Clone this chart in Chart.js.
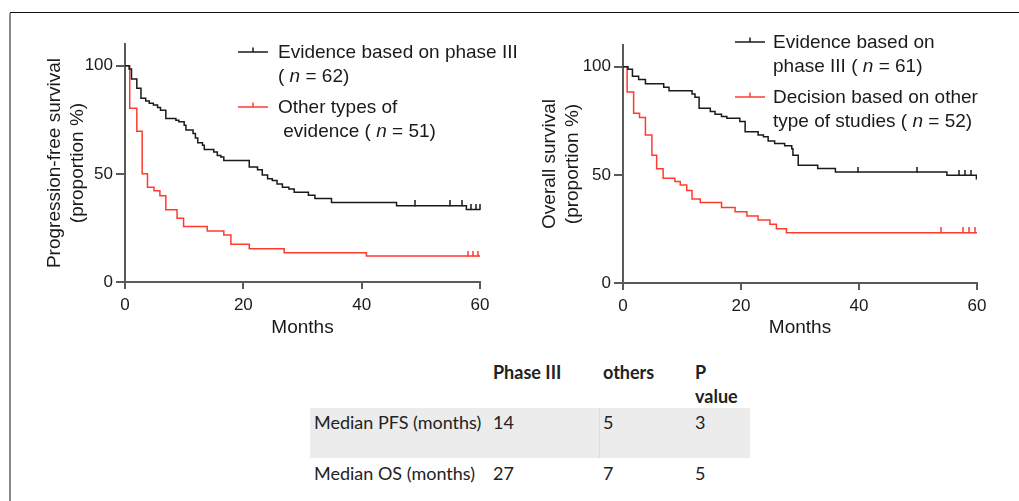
<!DOCTYPE html>
<html>
<head>
<meta charset="utf-8">
<script src="https://cdn.jsdelivr.net/npm/chart.js@4.4.1/dist/chart.umd.min.js"></script>
<style>
  html, body { margin: 0; padding: 0; background: #fff; }
  body { width: 1019px; height: 501px; position: relative; overflow: hidden;
         font-family: "Liberation Sans", Arial, sans-serif; color: #1a1a1a; }
  .frame-top { position: absolute; left: 10px; top: 12px; width: 1009px; border-top: 1.5px solid #111; }
  .frame-left { position: absolute; left: 9px; top: 13px; height: 488px; border-left: 2px solid #8a8a8a; }
  canvas { position: absolute; top: 20px; }
  .legend { position: absolute; font-size: 19px; line-height: 24px; white-space: nowrap; }
  .legend svg { position: absolute; top: 0; }
  .tbl { position: absolute; font-family: Lato, "Open Sans", sans-serif; font-size: 18px; color: #222; white-space: nowrap; }
  .tbl div { position: absolute; line-height: 20px; }
  .band { position: absolute; left: 310px; top: 408px; width: 440px; height: 50px; background: #ececec; }
  .band-line { position: absolute; left: 599px; top: 408px; width: 1px; height: 50px; background: #dcdcdc; }
</style>
</head>
<body>
<div class="frame-top"></div>
<div class="frame-left"></div>

<canvas id="pfs" width="490" height="330" style="left:10px"></canvas>
<canvas id="os" width="500" height="330" style="left:505px"></canvas>

<div id="legends"></div>
<div class="band"></div>
<div class="band-line"></div>
<div class="tbl" id="table"></div>

<script>
// axes
const xTicks = [0, 20, 40, 60];
const yTicks = [0, 50, 100];

// progression-free survival, phase III (n = 62)
const pfsP3Months = [0, 0.7, 1.1, 2.0, 2.7, 3.5, 4.1, 4.8, 5.5, 6.0, 6.9, 8.6, 9.1, 10.0, 10.3, 11.5, 11.9, 12.3,
  13.1, 13.4, 15.0, 15.6, 16.2, 16.7, 21.0, 22.4, 23.2, 24.1, 24.9, 25.7, 26.6, 27.7, 28.6, 31.0, 32.1, 34.9,
  45.9, 57.7, 60];
const pfsP3Surv = [100, 98.4, 93.8, 89.6, 84.9, 83.7, 82.6, 81.8, 80.6, 79.4, 75.6, 74.8, 74.1, 72.5, 70.2, 68.6, 66.6, 64.4,
  63.2, 61.2, 60.1, 58.5, 57.8, 56.2, 53.1, 51.9, 49.5, 47.7, 46.9, 45.3, 43.8, 43.0, 41.5, 40.1, 38.6, 36.7,
  35.2, 33.5, 33.5];
const pfsP3Censored = [49.0, 54.9, 56.9, 58.5, 59.3, 60];

// progression-free survival, other evidence (n = 51)
const pfsOtherMonths = [0, 0.8, 2.0, 2.9, 3.8, 4.9, 5.9, 6.9, 8.8, 9.9, 13.9, 16.7, 17.9, 21.0, 26.9, 40.8, 60];
const pfsOtherSurv = [100, 80.3, 69.7, 50.0, 43.8, 42.2, 39.9, 33.4, 29.5, 25.6, 23.6, 21.7, 17.4, 15.4, 13.5, 12.0, 12.0];
const pfsOtherCensored = [58.0, 58.9, 59.7];

// overall survival, phase III (n = 61)
const osP3Months = [0, 0.85, 1.6, 2.65, 3.8, 6.9, 7.8, 11.7, 12.2, 12.9, 14.8, 15.6, 16.7, 17.6, 19.8, 20.7, 22.9,
  23.8, 24.6, 25.7, 27.4, 28.6, 28.8, 29.7, 33.0, 36.0, 54.9, 59.9, 60];
const osP3Surv = [100, 98.8, 95.6, 94.1, 92.1, 90.5, 88.9, 87.4, 85.8, 80.8, 79.3, 78.0, 76.9, 76.2, 74.6, 69.9, 68.4,
  67.6, 65.6, 64.5, 63.4, 62.1, 59.0, 54.4, 52.9, 51.3, 49.8, 48.2, 48.2];
const osP3Censored = [39.9, 49.9, 56.9, 57.9, 58.9];

// overall survival, other studies (n = 52)
const osOtherMonths = [0, 0.7, 1.8, 2.8, 3.8, 4.9, 5.7, 6.8, 8.8, 9.7, 10.8, 11.7, 13.1, 16.7, 19.0, 21.0, 22.9,
  24.9, 26.0, 27.7, 60];
const osOtherSurv = [100, 88.3, 78.5, 76.5, 68.4, 59.0, 52.8, 48.4, 46.9, 45.3, 42.7, 38.8, 37.2, 34.9, 32.9, 31.0, 29.1,
  27.1, 25.1, 23.2, 23.2];
const osOtherCensored = [53.9, 57.7, 58.6, 59.7];

// table below the plots
const tableHeaders = ['Phase III', 'others', 'P value'];
const tableRows = ['Median PFS (months)', 'Median OS (months)'];
const medianPhase3 = [14, 27];
const medianOthers = [5, 7];
const pValues = [3, 5];

const BLACK = '#1a1a1a';
const RED = '#ff3b2f';
const AXIS = '#5a5a5a';
const FONT = '"Liberation Sans", Arial, sans-serif';

function toXY(xs, ys) {
  return xs.map((x, i) => ({ x: x, y: ys[i] }));
}

// survival level of a step curve at time t
function levelAt(xs, ys, t) {
  let v = ys[0];
  for (let i = 0; i < xs.length; i++) if (xs[i] <= t) v = ys[i];
  return v;
}

// censor mark: short tick pointing up from the curve
function tickMark(color) {
  const c = document.createElement('canvas');
  c.width = 2; c.height = 11;
  const g = c.getContext('2d');
  g.fillStyle = color;
  g.fillRect(0.25, 0, 1.5, 6);
  return c;
}

function curve(xs, ys, color) {
  return {
    type: 'line', data: toXY(xs, ys), stepped: true, borderColor: color,
    borderWidth: 1.5, pointRadius: 0, fill: false
  };
}

function censors(xs, ys, times, color) {
  return {
    type: 'scatter', data: times.map(t => ({ x: t, y: levelAt(xs, ys, t) })),
    pointStyle: tickMark(color), pointRadius: 5, clip: false
  };
}

function makeChart(id, datasets, yTitle, yWidth, padTop, padRight) {
  new Chart(document.getElementById(id), {
    data: { datasets: datasets },
    options: {
      responsive: false,
      animation: false,
      layout: { padding: { top: padTop, right: padRight, bottom: 0, left: 0 } },
      plugins: { legend: { display: false }, tooltip: { enabled: false } },
      scales: {
        x: {
          type: 'linear', min: 0, max: 60,
          afterBuildTicks: s => { s.ticks = xTicks.map(v => ({ value: v })); },
          afterFit: s => { s.height = 330 - 262 - (padTop - 24); },
          grid: { drawOnChartArea: false, drawTicks: true, tickLength: 7, color: AXIS, lineWidth: 2 },
          border: { color: AXIS, width: 2 },
          ticks: { color: BLACK, font: { family: FONT, size: 17 }, padding: 6, maxRotation: 0 },
          title: { display: true, text: 'Months', color: BLACK, font: { family: FONT, size: 19 },
                   padding: { top: 0, bottom: 10.6 } }
        },
        y: {
          min: 0, max: 110,
          afterBuildTicks: s => { s.ticks = yTicks.map(v => ({ value: v })); },
          afterFit: s => { s.width = yWidth; },
          grid: { drawOnChartArea: false, drawTicks: true, tickLength: 9, color: AXIS, lineWidth: 2 },
          border: { color: AXIS, width: 2 },
          ticks: { color: BLACK, font: { family: FONT, size: 17 }, padding: 3 },
          title: { display: true, text: yTitle, color: BLACK, font: { family: FONT, size: 19 },
                   padding: { top: 33.6, bottom: 0 } }
        }
      }
    }
  });
}

makeChart('pfs', [
  curve(pfsP3Months, pfsP3Surv, BLACK),
  curve(pfsOtherMonths, pfsOtherSurv, RED),
  censors(pfsP3Months, pfsP3Surv, pfsP3Censored, BLACK),
  censors(pfsOtherMonths, pfsOtherSurv, pfsOtherCensored, RED)
], ['Progression-free survival', '(proportion %)'], 115, 24, 20);

makeChart('os', [
  curve(osP3Months, osP3Surv, BLACK),
  curve(osOtherMonths, osOtherSurv, RED),
  censors(osP3Months, osP3Surv, osP3Censored, BLACK),
  censors(osOtherMonths, osOtherSurv, osOtherCensored, RED)
], ['Overall survival', '(proportion %)'], 118, 25, 28);

// legends (html text)
function legendSymbol(color, offset) {
  return '<svg width="30" height="20" style="left:' + offset + 'px">' +
    '<line x1="0" y1="12" x2="30" y2="12" stroke="' + color + '" stroke-width="1.5"/>' +
    '<line x1="15" y1="12" x2="15" y2="7.5" stroke="' + color + '" stroke-width="1.5"/></svg>';
}
const legendItems = [
  { left: 278, top: 40, color: BLACK, off: -40, html: 'Evidence based on phase III<br>( <i>n</i> = 62)' },
  { left: 278, top: 95, color: RED, off: -40, html: 'Other types of<br>&nbsp;evidence ( <i>n</i> = 51)' },
  { left: 773, top: 30, color: BLACK, off: -38, html: 'Evidence based on<br>phase III ( <i>n</i> = 61)' },
  { left: 773, top: 85, color: RED, off: -38, html: 'Decision based on other<br>type of studies ( <i>n</i> = 52)' }
];
document.getElementById('legends').innerHTML = legendItems.map(it =>
  '<div class="legend" style="left:' + it.left + 'px;top:' + it.top + 'px">' +
  legendSymbol(it.color, it.off) + it.html + '</div>').join('');

// table
const colX = [314, 493, 603, 695];
const rowY = [412, 463];
let cells = '';
cells += '<div style="left:' + colX[1] + 'px;top:362px;font-weight:700">' + tableHeaders[0] + '</div>';
cells += '<div style="left:' + colX[2] + 'px;top:362px;font-weight:700">' + tableHeaders[1] + '</div>';
cells += '<div style="left:' + colX[3] + 'px;top:360px;font-weight:700;line-height:24px">' +
  tableHeaders[2].replace(' ', '<br>') + '</div>';
tableRows.forEach((r, i) => {
  cells += '<div style="left:' + colX[0] + 'px;top:' + rowY[i] + 'px">' + r + '</div>';
  cells += '<div style="left:' + colX[1] + 'px;top:' + rowY[i] + 'px">' + medianPhase3[i] + '</div>';
  cells += '<div style="left:' + colX[2] + 'px;top:' + rowY[i] + 'px">' + medianOthers[i] + '</div>';
  cells += '<div style="left:' + colX[3] + 'px;top:' + rowY[i] + 'px">' + pValues[i] + '</div>';
});
document.getElementById('table').innerHTML = cells;
</script>
</body>
</html>
